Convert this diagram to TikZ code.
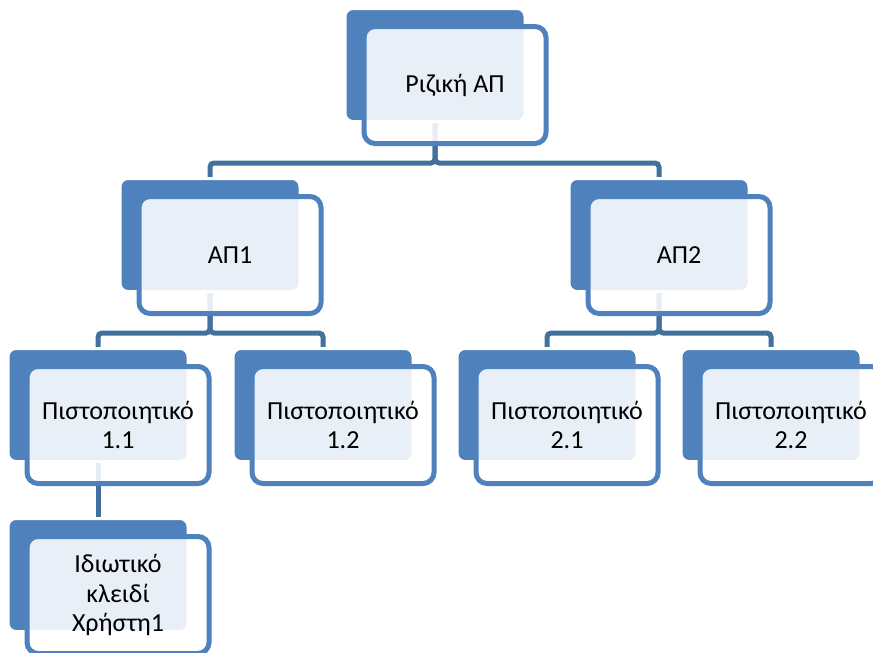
\documentclass[tikz,border=0pt]{standalone}
\usepackage{fontspec}
\setmainfont{Carlito}
\usepackage{tikz}
\definecolor{boxblue}{RGB}{79,129,189}
\definecolor{linkblue}{RGB}{65,113,156}
\tikzstyle{shadowbox} = [rectangle, rounded corners=8pt, fill=boxblue,
    draw=white, line width=3pt, minimum width=180pt, minimum height=113pt,
    inner sep=0pt]
\tikzstyle{textbox} = [rectangle, rounded corners=11pt, fill=white,
    fill opacity=0.88, text opacity=1, draw=boxblue, line width=5pt,
    minimum width=182pt, minimum height=117pt, inner sep=0pt,
    align=center, font=\fontsize{26}{29.5}\selectfont]
\tikzset{link/.style={draw=linkblue, line width=5pt, rounded corners=4pt}}
\pgfdeclarelayer{links}
\pgfsetlayers{links,main}

\begin{document}
\begin{tikzpicture}[x=1pt,y=-1pt]
    \useasboundingbox (0,0) rectangle (873,653);
    \clip (0,0) rectangle (873,653);
    %boxes
    \node[shadowbox] (rootsh) at (435,65) {};
    \node[textbox] (root) at (455,85) {Ριζική ΑΠ};
    \node[shadowbox] (ap1sh) at (210,235) {};
    \node[textbox] (ap1) at (230,255) {ΑΠ1};
    \node[shadowbox] (ap2sh) at (659,235) {};
    \node[textbox] (ap2) at (679,255) {ΑΠ2};
    \node[shadowbox] (c11sh) at (98,405) {};
    \node[textbox] (c11) at (118,425) {Πιστοποιητικό\\1.1};
    \node[shadowbox] (c12sh) at (323,405) {};
    \node[textbox] (c12) at (343,425) {Πιστοποιητικό\\1.2};
    \node[shadowbox] (c21sh) at (547,405) {};
    \node[textbox] (c21) at (567,425) {Πιστοποιητικό\\2.1};
    \node[shadowbox] (c22sh) at (771,405) {};
    \node[textbox] (c22) at (791,425) {Πιστοποιητικό\\2.2};
    \node[shadowbox] (keysh) at (98,575) {};
    \node[textbox] (key) at (118,595) {Ιδιωτικό\\κλειδί\\Χρήστη1};
    %links
    \begin{pgfonlayer}{links}
    \fill[white] (0,0) rectangle (873,653);
    \draw[link] (rootsh.south) -- ++(0,40) -| (ap1sh.north);
    \draw[link] (rootsh.south) -- ++(0,40) -| (ap2sh.north);
    \draw[link] (ap1sh.south) -- ++(0,40) -| (c11sh.north);
    \draw[link] (ap1sh.south) -- ++(0,40) -| (c12sh.north);
    \draw[link] (ap2sh.south) -- ++(0,40) -| (c21sh.north);
    \draw[link] (ap2sh.south) -- ++(0,40) -| (c22sh.north);
    \draw[link] (c11sh.south) -- (keysh.north);
    \end{pgfonlayer}
\end{tikzpicture}
\end{document}
